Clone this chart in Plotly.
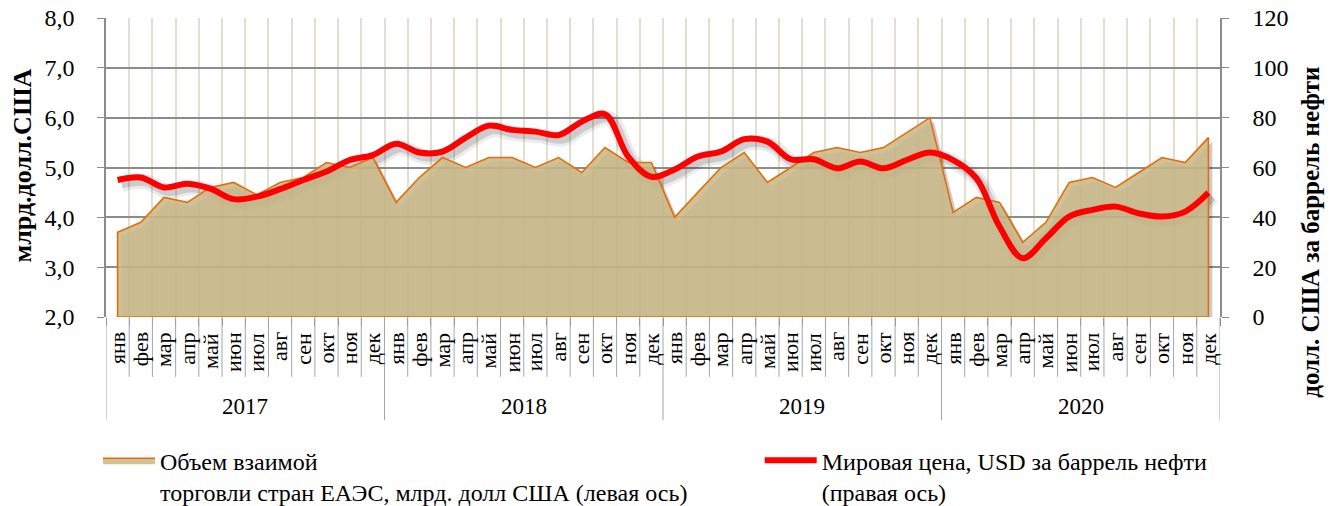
import plotly.graph_objects as go

months = ["янв", "фев", "мар", "апр", "май", "июн", "июл", "авг", "сен", "окт", "ноя", "дек"]
years = ["2017", "2018", "2019", "2020"]

trade = [3.7, 3.9, 4.4, 4.3, 4.6, 4.7, 4.45, 4.7, 4.8, 5.1, 5.0, 5.2,
         4.3, 4.8, 5.2, 5.0, 5.2, 5.2, 5.0, 5.2, 4.9, 5.4, 5.1, 5.1,
         4.0, 4.5, 5.0, 5.3, 4.7, 5.0, 5.3, 5.4, 5.3, 5.4, 5.7, 6.0,
         4.1, 4.4, 4.3, 3.5, 3.9, 4.7, 4.8, 4.6, 4.9, 5.2, 5.1, 5.6]

oil = [55.0, 56.0, 52.0, 53.5, 51.5, 47.3, 48.3, 51.3, 55.0, 58.4, 63.0, 65.0,
       69.5, 66.0, 66.4, 72.0, 76.8, 75.1, 74.4, 73.0, 78.4, 81.4, 64.4, 56.3,
       59.2, 64.4, 66.4, 71.4, 70.4, 63.3, 63.3, 59.7, 62.4, 59.7, 63.0, 66.0,
       63.0, 55.7, 36.3, 23.6, 31.6, 40.3, 43.0, 44.3, 41.6, 40.3, 42.3, 49.9]

name_trade = "Объем взаимой<br>торговли стран ЕАЭС, млрд. долл США (левая ось)"
name_oil = "Мировая цена, USD за баррель нефти<br>(правая ось)"

Y1 = [2.0, 8.0]
Y2 = [0, 120]
FONT = "Liberation Serif, Times New Roman, serif"

labels = [m for y in years for m in months]
n = len(labels)
idx = list(range(n))
XR = [-0.5, n - 0.5]

# closed polygon for the area down to the left-axis minimum
px_ = [idx[0]] + idx + [idx[-1], idx[0]]
py_ = [Y1[0]] + trade + [Y1[0], Y1[0]]

# shadow offsets (in axis units) for the soft drop shadow effect
sx = 0.17
sy1 = 0.08
sy2 = 1.6

fig = go.Figure()

# shadows (drawn first, on shifted hidden axes)
fig.add_trace(go.Scatter(x=px_, y=py_, xaxis="x2", yaxis="y2", fill="toself",
                         fillcolor="rgba(0,0,0,0.20)", line=dict(width=0),
                         mode="lines", showlegend=False, hoverinfo="skip"))
fig.add_trace(go.Scatter(x=idx, y=oil, xaxis="x2", yaxis="y3", mode="lines",
                         line=dict(color="rgba(0,0,0,0.08)", width=15, shape="spline"),
                         showlegend=False, hoverinfo="skip"))
fig.add_trace(go.Scatter(x=idx, y=oil, xaxis="x2", yaxis="y3", mode="lines",
                         line=dict(color="rgba(0,0,0,0.13)", width=9, shape="spline"),
                         showlegend=False, hoverinfo="skip"))
# series
fig.add_trace(go.Scatter(x=px_, y=py_, xaxis="x3", yaxis="y4", fill="toself",
                         fillcolor="rgba(201,186,136,0.88)",
                         line=dict(color="#E46C0A", width=1.6), mode="lines",
                         name=name_trade, legend="legend", hoverinfo="skip"))
fig.add_trace(go.Scatter(x=idx, y=oil, xaxis="x3", yaxis="y5", mode="lines",
                         line=dict(color="#FF0000", width=6, shape="spline"),
                         name=name_oil, legend="legend2"))

grid_grey = "#8c8c8c"
shapes = []
for k in range(n + 1):
    yb = -0.345 if k % 12 == 0 else -0.2
    shapes.append(dict(type="line", xref="x", yref="paper", x0=k - 0.5, x1=k - 0.5,
                       y0=0, y1=yb, line=dict(color="#a6a6a6", width=1)))

annotations = []
for i, m in enumerate(labels):
    annotations.append(dict(x=i, y=-0.045, xref="x", yref="paper", text=m, showarrow=False,
                            textangle=-90, xanchor="center", yanchor="top",
                            font=dict(family=FONT, size=22, color="#000")))
for j, yr in enumerate(years):
    annotations.append(dict(x=j * 12 + 5.5, y=-0.301, xref="x", yref="paper", text=yr,
                            showarrow=False, xanchor="center", yanchor="middle",
                            font=dict(family=FONT, size=23, color="#000")))
annotations.append(dict(x=-0.0751, y=0.508, xref="paper", yref="paper",
                        text="<b>млрд.долл.США</b>", showarrow=False, textangle=-90,
                        xanchor="center", yanchor="middle",
                        font=dict(family=FONT, size=26, color="#000")))
annotations.append(dict(x=1.0805, y=0.284, xref="paper", yref="paper",
                        text="<b>долл. США за баррель нефти</b>", showarrow=False, textangle=-90,
                        xanchor="center", yanchor="middle",
                        font=dict(family=FONT, size=25, color="#000")))

leg_common = dict(orientation="h", xanchor="left", y=-0.405, yanchor="top",
                  itemwidth=52, valign="top", bgcolor="rgba(0,0,0,0)",
                  font=dict(family=FONT, size=24, color="#000"))

fig.update_layout(
    width=1336, height=506,
    margin=dict(l=106, r=116, t=18, b=189, autoexpand=False),
    plot_bgcolor="white", paper_bgcolor="white",
    separators=", ",
    font=dict(family=FONT, size=23, color="#000"),
    showlegend=True,
    legend=dict(x=-0.0072, **leg_common),
    legend2=dict(x=0.5868, **leg_common),
    xaxis=dict(range=XR, tickmode="linear", tick0=-0.5, dtick=1,
               showticklabels=False, ticks="outside", ticklen=8, tickcolor=grid_grey,
               showgrid=True, gridcolor="#e3dfcf", gridwidth=1.5, zeroline=False,
               showline=False, fixedrange=True),
    xaxis2=dict(range=[XR[0] - sx, XR[1] - sx], overlaying="x", visible=False),
    xaxis3=dict(range=XR, overlaying="x", visible=False),
    yaxis=dict(range=Y1, dtick=1, tickformat=".1f", showgrid=True, gridcolor=grid_grey,
               gridwidth=1.5, showline=True, linecolor=grid_grey, linewidth=1.5,
               ticks="outside", ticklen=7, tickcolor=grid_grey, zeroline=False,
               ticklabelstandoff=18, tickfont=dict(family=FONT, size=24, color="#000")),
    yaxis2=dict(range=[Y1[0] + sy1, Y1[1] + sy1], overlaying="y", anchor="x2", visible=False),
    yaxis3=dict(range=[Y2[0] + sy2, Y2[1] + sy2], overlaying="y", anchor="x2", visible=False),
    yaxis4=dict(range=Y1, overlaying="y", anchor="x3", visible=False),
    yaxis5=dict(range=Y2, dtick=20, overlaying="y", anchor="x3", side="right",
                showgrid=False, showline=True, linecolor=grid_grey, linewidth=1.5,
                ticks="outside", ticklen=7, tickcolor=grid_grey, zeroline=False,
                ticklabelstandoff=19, tickfont=dict(family=FONT, size=24, color="#000")),
    shapes=shapes,
    annotations=annotations,
)

fig.write_html("out.html", config={"displayModeBar": False},
               post_script="document.body.style.margin='0';")
